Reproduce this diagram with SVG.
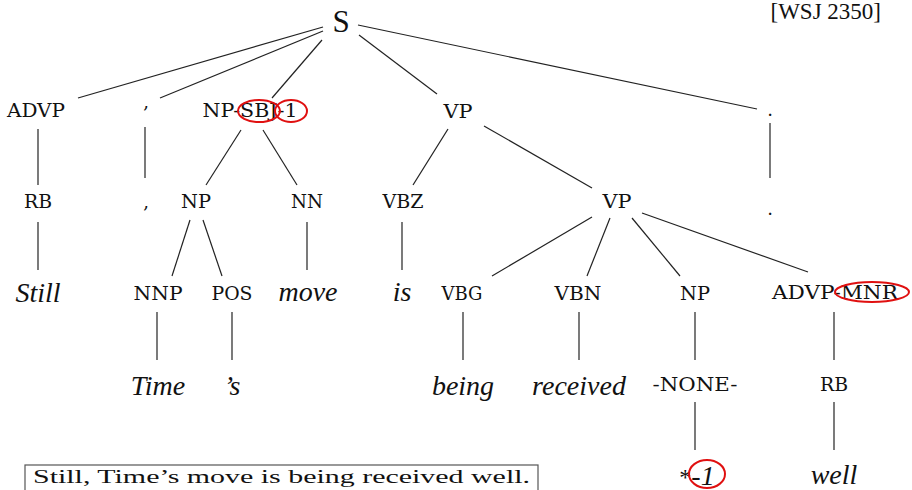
<svg xmlns="http://www.w3.org/2000/svg" width="912" height="490" viewBox="0 0 912 490">
<defs>
<style>
text{font-family:'Liberation Serif','DejaVu Serif',serif;fill:#111}
.lbl{font-family:'DejaVu Serif',serif;font-size:18px;text-anchor:middle}
.w{font-size:28px;font-style:italic;text-anchor:middle}
.e{fill:none;stroke:#e01010;stroke-width:2}
#edges line{stroke:#222;stroke-width:1.2}
</style>
</defs>
<rect width="912" height="490" fill="#fff"/>
<text x="881" y="19" font-size="23" text-anchor="end">[WSJ 2350]</text>
<g id="edges">
<line x1="323" y1="27" x2="78" y2="98"/>
<line x1="323" y1="31" x2="160" y2="98"/>
<line x1="322" y1="40" x2="272" y2="98"/>
<line x1="359" y1="35" x2="437" y2="94"/>
<line x1="358" y1="25" x2="757" y2="109"/>
<line x1="38" y1="129" x2="38" y2="185"/>
<line x1="145" y1="127" x2="145" y2="178"/>
<line x1="241" y1="130" x2="206" y2="185"/>
<line x1="263" y1="130" x2="297" y2="185"/>
<line x1="448" y1="129" x2="413" y2="185"/>
<line x1="484" y1="126" x2="592" y2="188"/>
<line x1="770" y1="123" x2="770" y2="178"/>
<line x1="38" y1="222" x2="38" y2="270"/>
<line x1="190" y1="220" x2="172" y2="276"/>
<line x1="203" y1="220" x2="222" y2="276"/>
<line x1="307" y1="222" x2="307" y2="270"/>
<line x1="402" y1="222" x2="402" y2="270"/>
<line x1="592" y1="217" x2="492" y2="276"/>
<line x1="610" y1="218" x2="587" y2="276"/>
<line x1="632" y1="218" x2="680" y2="276"/>
<line x1="642" y1="213" x2="808" y2="272"/>
<line x1="157" y1="312" x2="157" y2="360"/>
<line x1="232" y1="312" x2="232" y2="360"/>
<line x1="463" y1="312" x2="463" y2="360"/>
<line x1="579" y1="312" x2="579" y2="360"/>
<line x1="695" y1="312" x2="695" y2="360"/>
<line x1="834" y1="312" x2="834" y2="360"/>
<line x1="695" y1="402" x2="695" y2="450"/>
<line x1="834" y1="402" x2="834" y2="450"/>
</g>
<g id="S"><text x="341" y="32" font-size="31" text-anchor="middle">S</text></g>
<g id="advp"><text class="lbl" x="36" y="117" textLength="58" lengthAdjust="spacingAndGlyphs">ADVP</text></g>
<g id="comma1"><text class="lbl" x="146" y="108" font-size="20">,</text></g>
<g id="npsbj"><text class="lbl" x="250" y="117" textLength="95" lengthAdjust="spacingAndGlyphs">NP-SBJ-1</text>
<ellipse class="e" cx="259" cy="111" rx="21" ry="11"/><ellipse class="e" cx="291" cy="111" rx="16" ry="11"/></g>
<g id="vp1"><text class="lbl" x="458" y="118" textLength="29" lengthAdjust="spacingAndGlyphs">VP</text></g>
<g id="dot1"><text class="lbl" x="770" y="116" font-size="20">.</text></g>
<g id="rb1"><text class="lbl" x="38" y="208" textLength="28" lengthAdjust="spacingAndGlyphs">RB</text></g>
<g id="comma2"><text class="lbl" x="146" y="208" font-size="20">,</text></g>
<g id="np1"><text class="lbl" x="196" y="208" textLength="30" lengthAdjust="spacingAndGlyphs">NP</text></g>
<g id="nn"><text class="lbl" x="307" y="208" textLength="32" lengthAdjust="spacingAndGlyphs">NN</text></g>
<g id="vbz"><text class="lbl" x="403" y="208" textLength="41" lengthAdjust="spacingAndGlyphs">VBZ</text></g>
<g id="vp2"><text class="lbl" x="617" y="208" textLength="29" lengthAdjust="spacingAndGlyphs">VP</text></g>
<g id="dot2"><text class="lbl" x="770" y="215" font-size="20">.</text></g>
<g id="nnp"><text class="lbl" x="158" y="300" textLength="49" lengthAdjust="spacingAndGlyphs">NNP</text></g>
<g id="pos"><text class="lbl" x="232" y="300" textLength="41" lengthAdjust="spacingAndGlyphs">POS</text></g>
<g id="vbg"><text class="lbl" x="462" y="300" textLength="41" lengthAdjust="spacingAndGlyphs">VBG</text></g>
<g id="vbn"><text class="lbl" x="578" y="300" textLength="47" lengthAdjust="spacingAndGlyphs">VBN</text></g>
<g id="np2"><text class="lbl" x="695" y="300" textLength="30" lengthAdjust="spacingAndGlyphs">NP</text></g>
<g id="advpmnr"><text class="lbl" x="835" y="299" textLength="126" lengthAdjust="spacingAndGlyphs">ADVP-MNR</text>
<ellipse class="e" cx="872" cy="292" rx="37" ry="10"/></g>
<g id="none"><text class="lbl" x="695" y="391" textLength="85" lengthAdjust="spacingAndGlyphs">-NONE-</text></g>
<g id="rb2"><text class="lbl" x="834" y="391" textLength="28" lengthAdjust="spacingAndGlyphs">RB</text></g>
<g id="still"><text class="w" x="38" y="302">Still</text></g>
<g id="move"><text class="w" x="308" y="301">move</text></g>
<g id="is"><text class="w" x="402" y="301">is</text></g>
<g id="time"><text class="w" x="158" y="395">Time</text></g>
<g id="s"><text class="w" x="232" y="395">’s</text></g>
<g id="being"><text class="w" x="463" y="395">being</text></g>
<g id="received"><text class="w" x="579" y="395">received</text></g>
<g id="trace"><text class="w" x="697" y="485"><tspan font-style="normal" font-size="24">*</tspan>-1</text><ellipse class="e" cx="707" cy="474" rx="18" ry="14"/></g>
<g id="well"><text class="w" x="834" y="484">well</text></g>
<g id="sentence"><rect x="25" y="465" width="513" height="32" fill="none" stroke="#555" stroke-width="1.2"/>
<text x="33" y="483" font-family="'DejaVu Serif',serif" font-size="19" textLength="497" lengthAdjust="spacingAndGlyphs">Still, Time’s move is being received well.</text></g>
</svg>
